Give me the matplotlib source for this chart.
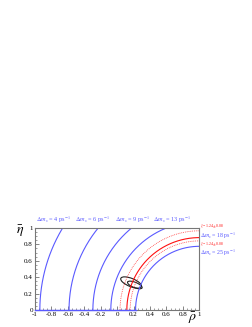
import numpy as np
import matplotlib
matplotlib.use("Agg")
import matplotlib.pyplot as plt
from matplotlib.patches import Ellipse

plt.rcParams['font.family'] = ['Liberation Serif', 'DejaVu Serif']
plt.rcParams['mathtext.fontset'] = 'stix'

# radii of the Delta m_s circles (centre at rho=1, eta=0)
blue_dms = [4, 6, 9, 13, 25]
blue_radius = [1.94, 1.585, 1.295, 1.077, 0.776]
red_radius = 0.882          # Delta m_s = 18 (solid)
red_band = [0.965, 0.842]   # xi = 1.24 +- 0.08 (dotted)

# confidence ellipses: centre rho, centre eta, full width, full height, angle
ellipses = [(0.17, 0.335, 0.27, 0.10, -22),
            (0.215, 0.305, 0.19, 0.065, -22)]

blue = '#5a5aff'
red = '#ff1010'

fig = plt.figure(figsize=(2.53, 3.27), dpi=100)
ax = fig.add_axes([0.138, 0.052, 0.650, 0.251])

t = np.linspace(0, np.pi / 2, 400)
for r in blue_radius:
    ax.plot(1 - r * np.cos(t), r * np.sin(t), color=blue, lw=0.8)
ax.plot(1 - red_radius * np.cos(t), red_radius * np.sin(t), color=red, lw=0.8)
for r in red_band:
    ax.plot(1 - r * np.cos(t), r * np.sin(t), color=red, lw=0.6, ls=(0, (1, 1.2)), alpha=0.8)

# baseline segment of the circle graphs along eta = 0
ax.plot([-1, 1 - blue_radius[-1]], [0, 0], color=blue, lw=1.0, clip_on=False, zorder=5)

for cx, cy, w, h, a in ellipses:
    ax.add_patch(Ellipse((cx, cy), w, h, angle=a, fill=False, ec='#222222', lw=0.8))

ax.set_xlim(-1, 1)
ax.set_ylim(0, 1)
ax.set_xticks(np.arange(-1, 1.01, 0.2))
ax.set_xticklabels(['-1', '-0.8', '-0.6', '-0.4', '-0.2', '0', '0.2', '0.4', '0.6', '0.8', '1'])
ax.set_yticks(np.arange(0, 1.01, 0.2))
ax.set_yticklabels(['0', '0.2', '0.4', '0.6', '0.8', '1'])
ax.set_xticks(np.arange(-1, 1.01, 0.05), minor=True)
ax.set_yticks(np.arange(0, 1.01, 0.05), minor=True)
ax.tick_params(which='both', direction='in', labelsize=5.0, pad=1.5, color='#555555')
ax.tick_params(which='major', length=3, width=0.5)
ax.tick_params(which='minor', length=1.5, width=0.4)
for s in ax.spines.values():
    s.set_color('#777777')
    s.set_linewidth(0.8)

# labels above the frame
label_x = [-0.78, -0.30, 0.19, 0.67]
for x, dms in zip(label_x, blue_dms[:4]):
    ax.text(x, 1.035, r'$\Delta m_s$ = %d ps$^{-1}$' % dms, color=blue,
            fontsize=4.5, ha='center', va='bottom')

# labels at the right end of the curves
ax.text(1.01, 1.025, r'$\xi$ = 1.24$\pm$0.08', color=red, fontsize=2.8, va='center')
ax.text(1.01, 0.905, r'$\Delta m_s$ = 18 ps$^{-1}$', color=blue, fontsize=4.2, va='center')
ax.text(1.01, 0.805, r'$\xi$ = 1.24$\pm$0.08', color=red, fontsize=2.8, va='center')
ax.text(1.01, 0.70, r'$\Delta m_s$ = 25 ps$^{-1}$', color=blue, fontsize=4.2, va='center')

fig.text(0.078, 0.27, r'$\bar{\eta}$', fontsize=10, ha='center', va='bottom')
fig.text(0.78, 0.003, r'$\bar{\rho}$', fontsize=10, ha='right', va='bottom')

fig.savefig('out.png', dpi=100)
